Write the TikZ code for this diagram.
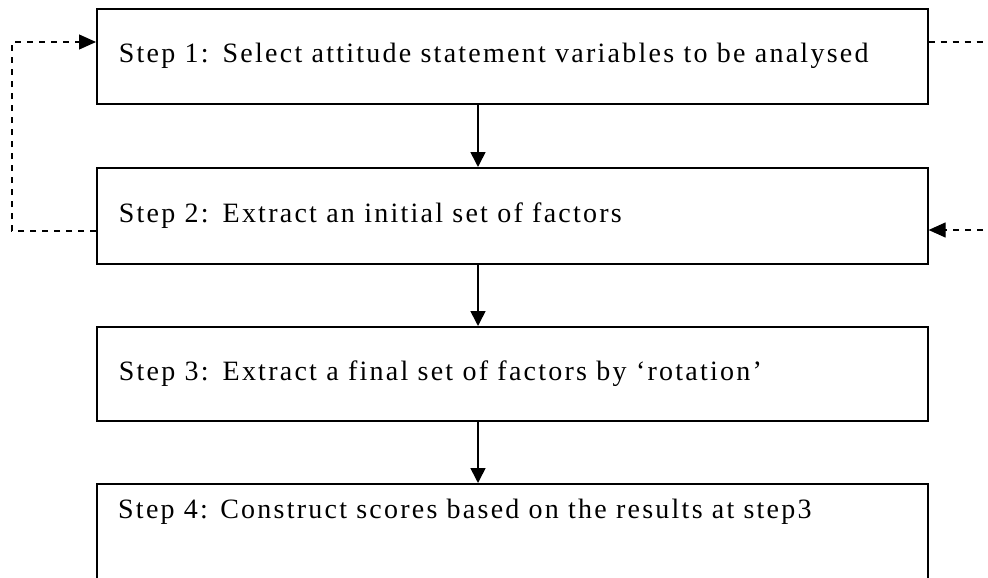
\documentclass[tikz,border=0pt]{standalone}
\usepackage{fontspec}
\setmainfont{Liberation Serif}[LetterSpace=8]
\usetikzlibrary{arrows.meta}
\begin{document}
\begin{tikzpicture}[x=1pt,y=-1pt,
  stepbox/.style={draw, line width=1.6pt, rectangle, minimum width=831pt, text width=787pt,
    inner xsep=22pt, align=left, anchor=north west, font=\fontsize{28}{32}\selectfont},
  flow/.style={line width=1.6pt, -{Triangle[width=15pt,length=15pt]}},
  fb/.style={line width=1.2pt, dash pattern=on 6pt off 6pt},
  fbarrow/.style={fb, -{Triangle[width=15pt,length=17pt]}}]
\useasboundingbox (0,0) rectangle (988,578);
\node[stepbox, minimum height=95pt] (b1) at (96,8) {Step 1: Select attitude statement variables to be analysed};
\node[stepbox, minimum height=96pt] (b2) at (96,167) {Step 2: Extract an initial set of factors};
\node[stepbox, minimum height=94pt] (b3) at (96,326) {Step 3: Extract a final set of factors by `rotation'};
\node[stepbox, minimum height=140pt] (b4) at (96,483) {};
\node[anchor=base west, inner sep=0pt, font=\fontsize{28}{32}\selectfont] (t4) at (118,518) {Step 4: Construct scores based on the results at step3};
\coordinate (ax) at (478,0);
\coordinate (L1) at (12,42);
\coordinate (L2) at (12,231);
\coordinate (R1) at (995,42);
\coordinate (R2) at (995,230);
\draw[flow] (b1.south -| ax) -- (b2.north -| ax);
\draw[flow] (b2.south -| ax) -- (b3.north -| ax);
\draw[flow] (b3.south -| ax) -- (b4.north -| ax);
\draw[fbarrow] (b2.west |- L2) -- (L2) -- (L1) -- (b1.west |- L1);
\draw[fb] (b1.east |- R1) -- (R1);
\draw[fbarrow] (R2) -- (b2.east |- R2);
\end{tikzpicture}
\end{document}
